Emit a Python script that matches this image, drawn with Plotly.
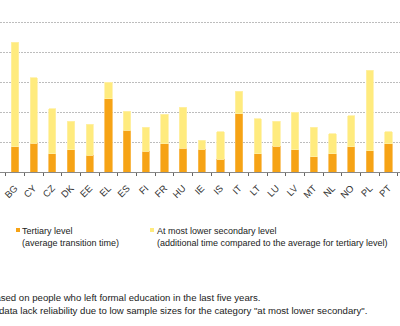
import plotly.graph_objects as go

countries = ["BE", "BG", "CY", "CZ", "DK", "EE", "EL", "ES", "FI", "FR", "HU", "IE",
             "IS", "IT", "LT", "LU", "LV", "MT", "NL", "NO", "PL", "PT", "RO"]
# months
tertiary = [3.3, 4.2, 4.8, 3.05, 3.7, 2.8, 12.2, 7.0, 3.45, 4.7, 4.0, 3.8,
            2.1, 9.7, 3.05, 4.3, 3.7, 2.55, 3.05, 4.2, 3.55, 4.7, 3.5]
additional = [4.2, 17.45, 10.9, 7.5, 4.8, 5.2, 2.8, 3.1, 4.05, 4.9, 6.8, 1.5,
              4.6, 3.8, 5.8, 4.2, 6.3, 4.95, 3.3, 5.2, 13.45, 2.05, 4.0]

legend_names = ["Tertiary level<br>(average transition time)",
                "At most lower secondary level<br>(additional time compared to the average for tertiary level)"]
notes = ["Based on people who left formal education in the last five years.",
         "data lack reliability due to low sample sizes for the category \"at most lower secondary\"."]

ORANGE = "#F6A315"
YELLOW = "#FFEB7E"
W, H = 400, 326
PLOT_H = 172

fig = go.Figure()
fig.add_bar(x=countries, y=tertiary, name=legend_names[0], marker_color=ORANGE,
            marker_line=dict(color="#F9BC55", width=0.8), width=0.39)
fig.add_bar(x=countries, y=additional, name=legend_names[1], marker_color=YELLOW,
            marker_line=dict(color="#FFF0A8", width=0.8), width=0.39)

font = "Liberation Sans, Arial, sans-serif"

def py(p):
    return (PLOT_H - p) / PLOT_H

ann = []
shapes = []
# legend
for i, (sx, tx, col) in enumerate([(16, 20, ORANGE), (150, 155, YELLOW)]):
    shapes.append(dict(type="rect", xref="paper", yref="paper",
                       x0=sx / W, x1=(sx + 4) / W, y0=py(232), y1=py(228),
                       fillcolor=col, line_width=0))
    ann.append(dict(xref="paper", yref="paper", x=tx / W, y=py(224.5),
                    xanchor="left", yanchor="top", align="left", showarrow=False,
                    text=legend_names[i], font=dict(family=font, size=9, color="#222")))
ann.append(dict(xref="paper", yref="paper", x=-13 / W, y=py(297), xanchor="left",
                yanchor="middle", showarrow=False, text=notes[0],
                font=dict(family=font, size=9.6, color="#222")))
ann.append(dict(xref="paper", yref="paper", x=-3.5 / W, y=py(310.5), xanchor="left",
                yanchor="middle", showarrow=False, text=notes[1],
                font=dict(family=font, size=9.6, color="#222")))

fig.update_layout(
    width=W, height=H, barmode="stack", showlegend=False,
    margin=dict(l=0, r=0, t=0, b=H - PLOT_H, pad=0),
    paper_bgcolor="white", plot_bgcolor="white",
    annotations=ann, shapes=shapes,
    font=dict(family=font, size=9, color="#333"),
)
fig.update_xaxes(range=[0.197, 21.616], automargin=False, tickangle=-45,
                 ticks="outside", tickson="boundaries", ticklen=3, tickcolor="#666",
                 showline=True, linecolor="#888", linewidth=1, showgrid=False,
                 ticklabelstandoff=6,
                 tickfont=dict(family=font, size=9.5, color="#333"))
fig.update_yaxes(range=[0, 28.667], dtick=5, showticklabels=False, automargin=False,
                 showgrid=True, gridcolor="#BDBDBD", griddash="2px,1px", gridwidth=1,
                 zeroline=False)

fig.write_html("out.html")
